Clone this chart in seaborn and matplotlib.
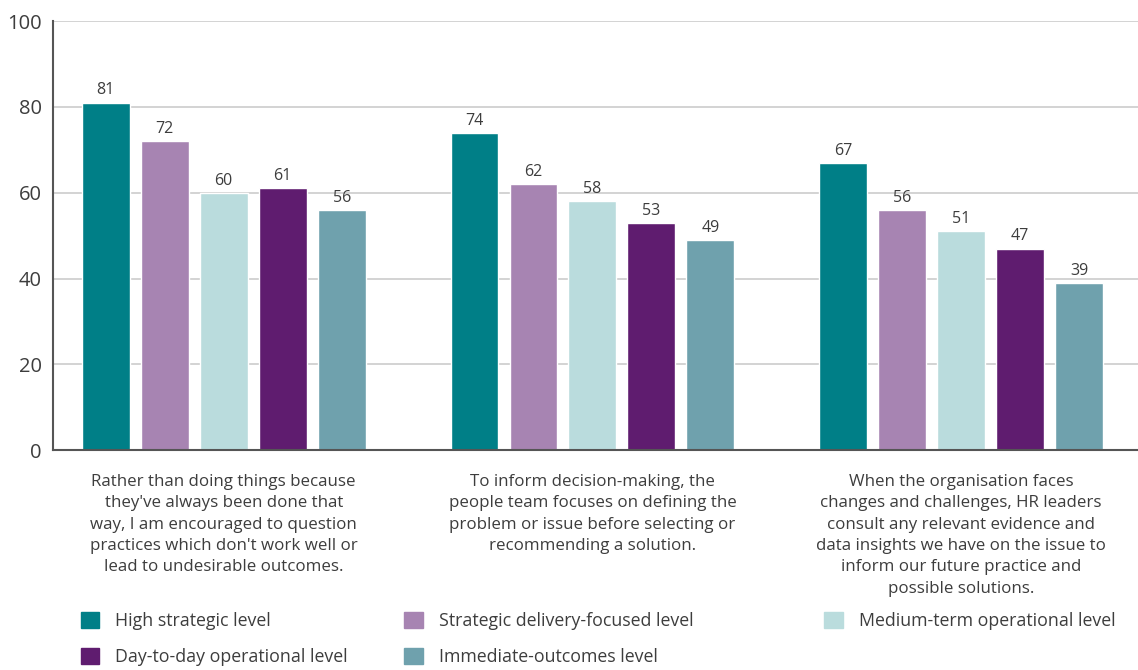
import pandas as pd
import numpy as np
import matplotlib.pyplot as plt
import seaborn as sns
from matplotlib.patches import Patch

# statements (x categories)
statements = [
    "Rather than doing things because\nthey've always been done that\nway, I am encouraged to question\npractices which don't work well or\nlead to undesirable outcomes.",
    "To inform decision-making, the\npeople team focuses on defining the\nproblem or issue before selecting or\nrecommending a solution.",
    "When the organisation faces\nchanges and challenges, HR leaders\nconsult any relevant evidence and\ndata insights we have on the issue to\ninform our future practice and\npossible solutions.",
]
levels = ["High strategic level", "Strategic delivery-focused level",
          "Medium-term operational level", "Day-to-day operational level",
          "Immediate-outcomes level"]

high_strategic = [81, 74, 67]
strategic_delivery = [72, 62, 56]
medium_term = [60, 58, 51]
day_to_day = [61, 53, 47]
immediate = [56, 49, 39]

colors = ["#007F87", "#A784B2", "#BADCDD", "#5F1C6F", "#6FA1AD"]

rows = []
for lvl, vals in zip(levels, [high_strategic, strategic_delivery, medium_term, day_to_day, immediate]):
    for s, v in zip(statements, vals):
        rows.append({"statement": s, "level": lvl, "value": v})
df = pd.DataFrame(rows)

sns.set_style("white")
plt.rcParams['font.family'] = ['Open Sans', 'DejaVu Sans']
txt = "#3d3d3d"

fig = plt.figure(figsize=(11.38, 6.70), dpi=100)
ax = fig.add_axes([0.0466, 0.328, 0.9534, 0.6405])

sns.barplot(data=df, x="statement", y="value", hue="level", hue_order=levels,
            palette=colors, width=0.8, gap=0.19, saturation=1, ax=ax, legend=False)

for c in ax.containers:
    ax.bar_label(c, fmt="%d", padding=3, fontsize=11.5, color=txt)

ax.set_ylim(0, 100)
ax.set_xlim(-0.463, 2.48)
ax.set_yticks([0, 20, 40, 60, 80, 100])
ax.yaxis.grid(True, color="#cccccc", linewidth=1.2)
ax.set_axisbelow(True)
ax.set_xlabel("")
ax.set_ylabel("")
for sp in ["top", "right"]:
    ax.spines[sp].set_visible(False)
ax.spines["left"].set_color("#555555")
ax.spines["bottom"].set_color("#555555")
ax.spines["left"].set_linewidth(1.5)
ax.spines["bottom"].set_linewidth(1.5)
ax.tick_params(axis="y", labelsize=14.5, colors=txt, length=0, pad=8)
ax.tick_params(axis="x", length=0, pad=17)
for lab in ax.get_xticklabels():
    lab.set_fontsize(12.2)
    lab.set_color(txt)
    lab.set_linespacing(1.45)
    lab.set_verticalalignment("top")

# legend in three fixed columns
handles = [Patch(color=c) for c in colors]
cols = [([0, 3], 0.071), ([1, 4], 0.355), ([2], 0.724)]
for idx, xpos in cols:
    fig.legend([handles[i] for i in idx], [levels[i] for i in idx],
               loc="upper left", bbox_to_anchor=(xpos, 0.087), frameon=False,
               fontsize=12.8, labelcolor=txt, handlelength=1.05, handleheight=1.05,
               handletextpad=0.9, labelspacing=1.0, borderaxespad=0, borderpad=0)

fig.savefig("out.png", dpi=100)
